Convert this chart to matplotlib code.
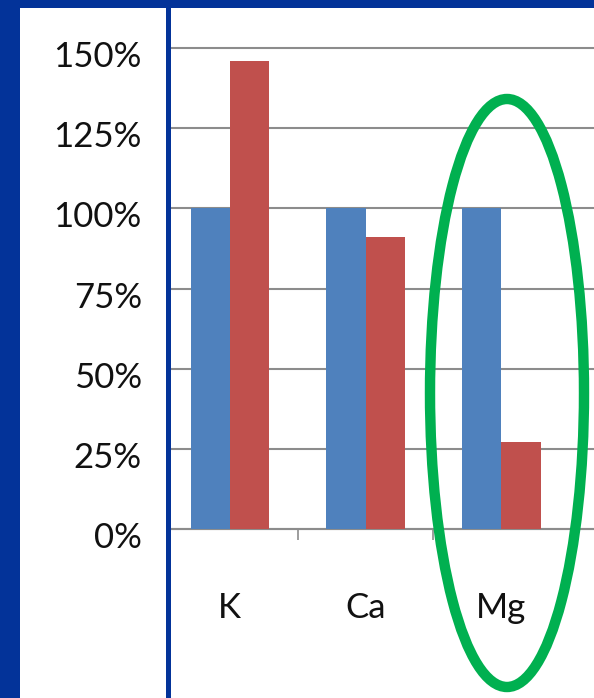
import matplotlib.pyplot as plt
import matplotlib.transforms as mtransforms
from matplotlib.patches import Ellipse, Rectangle
import numpy as np

# data
categories = ["K", "Ca", "Mg"]
series_a = [100, 100, 100]
series_b = [146, 91, 27]
y_ticks = [0, 25, 50, 75, 100, 125, 150]

BG = "#033399"
BLUE = "#4F81BD"
RED = "#C0504D"
GRID = "#8C8C8C"
TEXT = "#111111"

W, H = 594, 698
fig = plt.figure(figsize=(W / 100, H / 100), dpi=100, facecolor=BG)

def fx(px):
    return px / W

def fy(py):
    return 1 - py / H

# white panel behind the y labels
fig.patches.append(Rectangle((fx(20), 0), fx(146), fy(8), transform=fig.transFigure,
                             facecolor="white", edgecolor="none", zorder=-1))

ax = fig.add_axes([fx(171), 0, 1 - fx(171), fy(8)])
ax.set_facecolor("white")

x = np.arange(len(categories))
w = 0.29
ax.bar(x - w / 2, series_a, width=w, color=BLUE, zorder=3)
ax.bar(x + w / 2, series_b, width=w, color=RED, zorder=3)

# 0 at px 529, 150 at px 48
ppu = (529 - 48) / 150
ax.set_ylim(-(H - 529) / ppu, 150 + (48 - 8) / ppu)
ax.set_xlim(-59 / 136, (W - 229) / 136)

ax.set_yticks(y_ticks)
ax.set_yticklabels([f"{v}%" for v in y_ticks])
ax.tick_params(axis="y", length=0, pad=21, labelsize=25, labelcolor=TEXT)
shift = mtransforms.ScaledTranslation(0, -6 / 100, fig.dpi_scale_trans)
for lab in ax.get_yticklabels():
    lab.set_transform(lab.get_transform() + shift)
ax.grid(axis="y", color=GRID, linewidth=1.5, zorder=1)

for s in ["top", "right", "left"]:
    ax.spines[s].set_visible(False)
ax.spines["bottom"].set_position(("data", 0))
ax.spines["bottom"].set_color(GRID)
ax.spines["bottom"].set_linewidth(1.5)

ax.set_xticks(x)
ax.set_xticklabels(categories)
ax.tick_params(axis="x", which="major", length=0, pad=45, labelsize=25, labelcolor=TEXT)
ax.set_xticks([0.5, 1.5], minor=True)
ax.tick_params(axis="x", which="minor", length=8, width=1.2, color=GRID, direction="out")

for lab in ax.get_xticklabels() + ax.get_yticklabels():
    lab.set_fontfamily(["Lato", "DejaVu Sans"])

# blue divider line between label panel and plot
fig.patches.append(Rectangle((fx(166), 0), fx(5), fy(8), transform=fig.transFigure,
                             facecolor=BG, edgecolor="none", zorder=5))

# green highlight ellipse around Mg
fig.patches.append(Ellipse((fx(507), fy(393)), fx(154), 588 / H, transform=fig.transFigure,
                           facecolor="none", edgecolor="#00B050", linewidth=7.5, zorder=10))

fig.savefig("out.png", dpi=100, facecolor=BG)
